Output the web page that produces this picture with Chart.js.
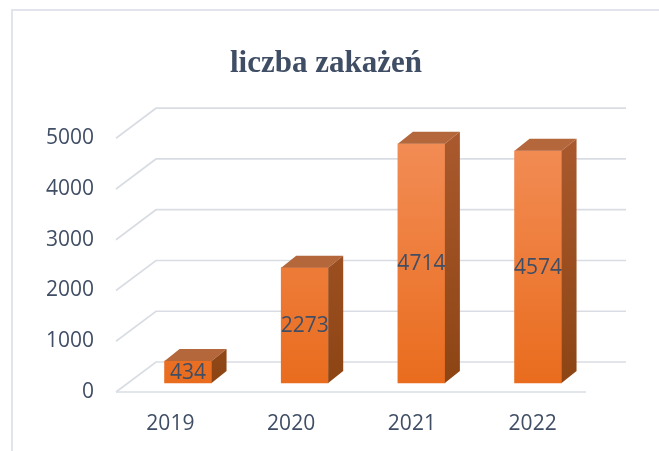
<!DOCTYPE html>
<html>
<head>
<meta charset="utf-8">
<script src="https://cdn.jsdelivr.net/npm/chart.js@4"></script>
<style>
  body { margin: 0; background: #fff; }
  #wrap { position: relative; width: 659px; height: 451px; overflow: hidden; }
  #frame { position: absolute; left: 11px; top: 9px; width: 700px; height: 500px;
           border-left: 2px solid #e1e5eb; border-top: 2px solid #e1e5eb; }
  canvas { position: absolute; left: 0; top: 0; }
</style>
</head>
<body>
<div id="wrap">
  <div id="frame"></div>
  <canvas id="myChart" width="659" height="451"></canvas>
</div>
<script>
const years = ['2019', '2020', '2021', '2022'];
const cases = [434, 2273, 4714, 4574];
const yMin = 0;
const yMax = 5000;
const yStep = 1000;

const textColor = '#404e65';
const gridColor = '#d9dde3';

// 3d look: back wall offset and bar extrusion
const WALL_DX = 40, WALL_DY = 30;
const BAR_DX = 15, BAR_DY = 12;

// floor grid + back wall lines
const wallPlugin = {
  id: 'wall',
  beforeDatasetsDraw(chart) {
    const ctx = chart.ctx;
    const ys = chart.scales.y;
    const area = chart.chartArea;
    const x0 = area.left + 6;
    const xEnd = area.right + 33;
    ctx.save();
    ctx.strokeStyle = gridColor;
    ctx.lineWidth = 1.7;
    ys.ticks.forEach(t => {
      const yy = ys.getPixelForValue(t.value);
      ctx.beginPath();
      ctx.moveTo(x0, yy);
      ctx.lineTo(x0 + WALL_DX, yy - WALL_DY);
      ctx.lineTo(xEnd, yy - WALL_DY);
      ctx.stroke();
    });
    const y0 = ys.getPixelForValue(0);
    ctx.beginPath();
    ctx.moveTo(x0, y0);
    ctx.lineTo(xEnd - WALL_DX, y0);
    ctx.stroke();
    ctx.restore();
  }
};

// top and side faces of the bars, plus value labels
const boxPlugin = {
  id: 'box',
  afterDatasetsDraw(chart) {
    const ctx = chart.ctx;
    const meta = chart.getDatasetMeta(0);
    const area = chart.chartArea;
    const side = ctx.createLinearGradient(0, area.top, 0, area.bottom);
    side.addColorStop(0, '#a9592d');
    side.addColorStop(1, '#8c4413');
    ctx.save();
    meta.data.forEach((bar, i) => {
      const p = bar.getProps(['x', 'y', 'base', 'width'], true);
      const l = p.x - p.width / 2, r = p.x + p.width / 2;
      const top = p.y, bot = p.base;
      ctx.fillStyle = '#b5673c';
      ctx.beginPath();
      ctx.moveTo(l, top);
      ctx.lineTo(l + BAR_DX, top - BAR_DY);
      ctx.lineTo(r + BAR_DX, top - BAR_DY);
      ctx.lineTo(r, top);
      ctx.closePath();
      ctx.fill();
      ctx.fillStyle = side;
      ctx.beginPath();
      ctx.moveTo(r, top);
      ctx.lineTo(r + BAR_DX, top - BAR_DY);
      ctx.lineTo(r + BAR_DX, bot - BAR_DY);
      ctx.lineTo(r, bot);
      ctx.closePath();
      ctx.fill();

      ctx.fillStyle = textColor;
      ctx.font = '21px "Open Sans"';
      ctx.textAlign = 'center';
      ctx.textBaseline = 'middle';
      ctx.fillText(String(cases[i]), p.x, (top + bot) / 2 + 1);
    });
    ctx.restore();
  }
};

const ctx = document.getElementById('myChart');
new Chart(ctx, {
  type: 'bar',
  data: {
    labels: years,
    datasets: [{
      label: 'liczba zakażeń',
      data: cases.map((v, i) => ({ x: i, y: v })),
      xAxisID: 'xBar',
      yAxisID: 'yBar',
      barThickness: 47,
      borderWidth: 0,
      backgroundColor: (c) => {
        const a = c.chart.chartArea;
        if (!a) return '#ee7a30';
        const g = c.chart.ctx.createLinearGradient(0, a.top, 0, a.bottom);
        g.addColorStop(0, '#f28d56');
        g.addColorStop(1, '#e96b1c');
        return g;
      }
    }]
  },
  options: {
    responsive: false,
    animation: false,
    layout: { padding: { left: 0, right: 7, top: 0, bottom: 0 } },
    plugins: {
      legend: { display: false },
      tooltip: { enabled: false },
      title: {
        display: true,
        text: 'liczba zakażeń',
        color: textColor,
        font: { family: '"Liberation Serif"', size: 31, weight: 'bold' },
        padding: { top: 45, bottom: 56 }
      }
    },
    scales: {
      x: {
        type: 'category',
        position: 'bottom',
        offset: true,
        grid: { display: false, drawTicks: false },
        border: { display: false },
        ticks: { color: textColor, font: { family: '"Open Sans"', size: 21 }, padding: 19 },
        afterFit: (s) => { s.height = 59; }
      },
      xBar: {
        type: 'linear',
        display: false,
        offset: false,
        // bars sit deeper than the front labels, so a bit narrower spacing
        min: -0.669,
        max: 3.471
      },
      y: {
        position: 'left',
        min: yMin,
        max: yMax,
        grid: { display: false, drawTicks: false },
        border: { display: false },
        ticks: {
          stepSize: yStep,
          color: textColor,
          font: { family: '"Open Sans"', size: 21 },
          padding: 16,
          callback: (v) => String(v)
        },
        afterFit: (s) => { s.width = 110; }
      },
      yBar: {
        position: 'right',
        // same scale as y, shifted up to the bar plane
        min: yMin - 177,
        max: yMax - 177,
        grid: { display: false, drawTicks: false },
        border: { display: false },
        ticks: { display: false },
        afterFit: (s) => { s.width = 59; }
      }
    }
  },
  plugins: [wallPlugin, boxPlugin]
});
</script>
</body>
</html>
